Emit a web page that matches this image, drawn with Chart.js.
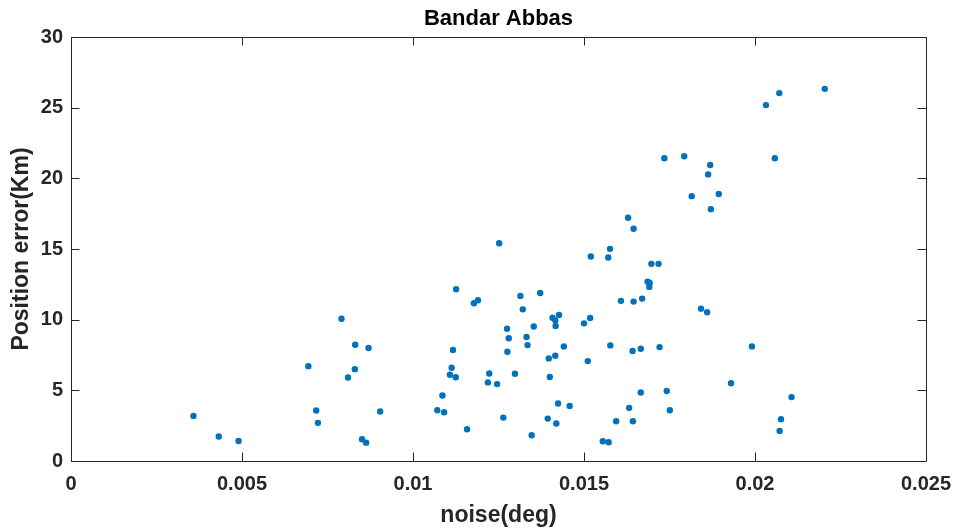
<!DOCTYPE html>
<html>
<head>
<meta charset="utf-8">
<script src="https://cdn.jsdelivr.net/npm/chart.js@4/dist/chart.umd.min.js"></script>
<style>
    html, body { margin: 0; padding: 0; background: #fff; }
    #box { width: 958px; height: 532px; }
</style>
</head>
<body>
<div id="box"><canvas id="grafico"></canvas></div>
<script>
// noise (deg) of each sample
var noise = [
    0.00358, 0.00432, 0.0049, 0.01126, 0.01178, 0.0119, 0.00791, 0.01275, 0.0128, 0.01276,
    0.00831, 0.0087, 0.01117, 0.00694, 0.0083, 0.0081, 0.01113, 0.01108, 0.01125, 0.01223,
    0.01219, 0.01246, 0.01086, 0.00717, 0.00722, 0.00904, 0.01071, 0.01091, 0.01264, 0.01158,
    0.00851, 0.00863, 0.01686, 0.01691, 0.01314, 0.01372, 0.01321, 0.01608, 0.01645, 0.0167,
    0.01842, 0.0186, 0.01408, 0.01427, 0.01416, 0.01417, 0.01353, 0.015, 0.01518, 0.01332,
    0.01335, 0.01441, 0.01577, 0.01642, 0.01666, 0.01721, 0.01397, 0.01416, 0.01511, 0.01298,
    0.014, 0.01424, 0.01458, 0.01394, 0.01419, 0.01347, 0.01666, 0.01742, 0.01632, 0.01751,
    0.01594, 0.01643, 0.01555, 0.01572, 0.01991, 0.0193, 0.02107, 0.02076, 0.02072, 0.01252,
    0.01735, 0.01793, 0.01869, 0.01863, 0.01815, 0.01894, 0.01871, 0.01629, 0.01645, 0.01576,
    0.0152, 0.01571, 0.01697, 0.01718, 0.01692, 0.02032, 0.02071, 0.02204, 0.02058
];
// position error (Km) of each sample
var erro = [
    3.19, 1.73, 1.42, 12.15, 11.16, 11.37, 10.07, 9.36, 8.68, 7.73,
    8.23, 7.99, 7.85, 6.71, 6.50, 5.91, 6.60, 6.10, 5.93, 6.19,
    5.56, 5.44, 4.63, 3.57, 2.70, 3.50, 3.59, 3.45, 3.07, 2.25,
    1.54, 1.30, 12.68, 12.32, 11.68, 11.89, 10.73, 11.33, 11.28, 11.49,
    10.78, 10.52, 10.14, 10.33, 9.95, 9.55, 9.52, 9.74, 10.12, 8.77,
    8.20, 8.11, 8.18, 7.78, 7.94, 8.06, 7.26, 7.45, 7.07, 6.17,
    5.94, 4.07, 3.90, 3.00, 2.65, 1.82, 4.85, 4.96, 3.76, 3.59,
    2.81, 2.81, 1.40, 1.33, 8.11, 5.51, 4.52, 2.96, 2.13, 15.41,
    21.42, 21.56, 20.94, 20.28, 18.74, 18.89, 17.82, 17.21, 16.43, 15.01,
    14.47, 14.40, 13.95, 13.95, 12.60, 25.18, 26.03, 26.33, 21.42
];
var ticksX = [0, 0.005, 0.01, 0.015, 0.02, 0.025];
var ticksY = [0, 5, 10, 15, 20, 25, 30];
var titulo = 'Bandar Abbas';

var corEixo = '#262626';

// ticks para dentro, caixa completa e titulo centrado no grafico, estilo MATLAB
var caixa = {
    id: 'caixa',
    afterDraw: function (chart) {
        var ctx = chart.ctx;
        var a = chart.chartArea;
        var sx = chart.scales.x, sy = chart.scales.y;
        var len = 8.5;
        ctx.save();
        ctx.strokeStyle = corEixo;
        ctx.lineWidth = 1;
        ctx.beginPath();
        ctx.rect(a.left + 0.5, a.top + 0.5, a.right - a.left, a.bottom - a.top);
        ticksX.forEach(function (v) {
            var px = Math.round(sx.getPixelForValue(v)) + 0.5;
            ctx.moveTo(px, a.bottom); ctx.lineTo(px, a.bottom - len);
            ctx.moveTo(px, a.top); ctx.lineTo(px, a.top + len);
        });
        ticksY.forEach(function (v) {
            var py = Math.round(sy.getPixelForValue(v)) + 0.5;
            ctx.moveTo(a.left, py); ctx.lineTo(a.left + len, py);
            ctx.moveTo(a.right, py); ctx.lineTo(a.right - len, py);
        });
        ctx.stroke();

        ctx.fillStyle = '#000';
        ctx.font = 'bold 22px "Liberation Sans"';
        ctx.textAlign = 'center';
        ctx.textBaseline = 'middle';
        ctx.fillText(titulo, (a.left + a.right) / 2, 19);
        ctx.restore();
    }
};

var pontos = noise.map(function (n, i) { return { x: n, y: erro[i] }; });

new Chart(document.getElementById('grafico'), {
    type: 'scatter',
    data: {
        datasets: [{
            data: pontos,
            backgroundColor: '#0072BD',
            borderWidth: 0,
            pointRadius: 3.2
        }]
    },
    options: {
        responsive: true,
        maintainAspectRatio: false,
        animation: false,
        layout: { padding: { left: 0, right: 32, top: 37, bottom: 0 } },
        plugins: {
            legend: { display: false },
            tooltip: { enabled: false },
            title: { display: false }
        },
        scales: {
            x: {
                type: 'linear',
                min: 0,
                max: 0.025,
                afterFit: function (s) { s.height = 71; s.paddingRight = 0; },
                afterBuildTicks: function (s) { s.ticks = ticksX.map(function (v) { return { value: v }; }); },
                grid: { display: false, drawTicks: false },
                border: { display: false },
                ticks: {
                    color: corEixo,
                    padding: 11,
                    maxRotation: 0,
                    font: { family: 'Liberation Sans', size: 20, weight: 'bold' },
                    callback: function (v) { return String(Number(v.toFixed(3))); }
                },
                title: {
                    display: true,
                    text: 'noise(deg)',
                    color: corEixo,
                    font: { family: 'Liberation Sans', size: 23, weight: 'bold', lineHeight: 1.2 },
                    padding: { top: 0, bottom: 3 }
                }
            },
            y: {
                min: 0,
                max: 30,
                afterFit: function (s) { s.width = 71; },
                afterBuildTicks: function (s) { s.ticks = ticksY.map(function (v) { return { value: v }; }); },
                grid: { display: false, drawTicks: false },
                border: { display: false },
                ticks: {
                    color: corEixo,
                    padding: 8,
                    font: { family: 'Liberation Sans', size: 20, weight: 'bold' }
                },
                title: {
                    display: true,
                    text: 'Position error(Km)',
                    color: corEixo,
                    font: { family: 'Liberation Sans', size: 23, weight: 'bold', lineHeight: 1.2 },
                    padding: { top: 8, bottom: 0 }
                }
            }
        }
    },
    plugins: [caixa]
});
</script>
</body>
</html>
